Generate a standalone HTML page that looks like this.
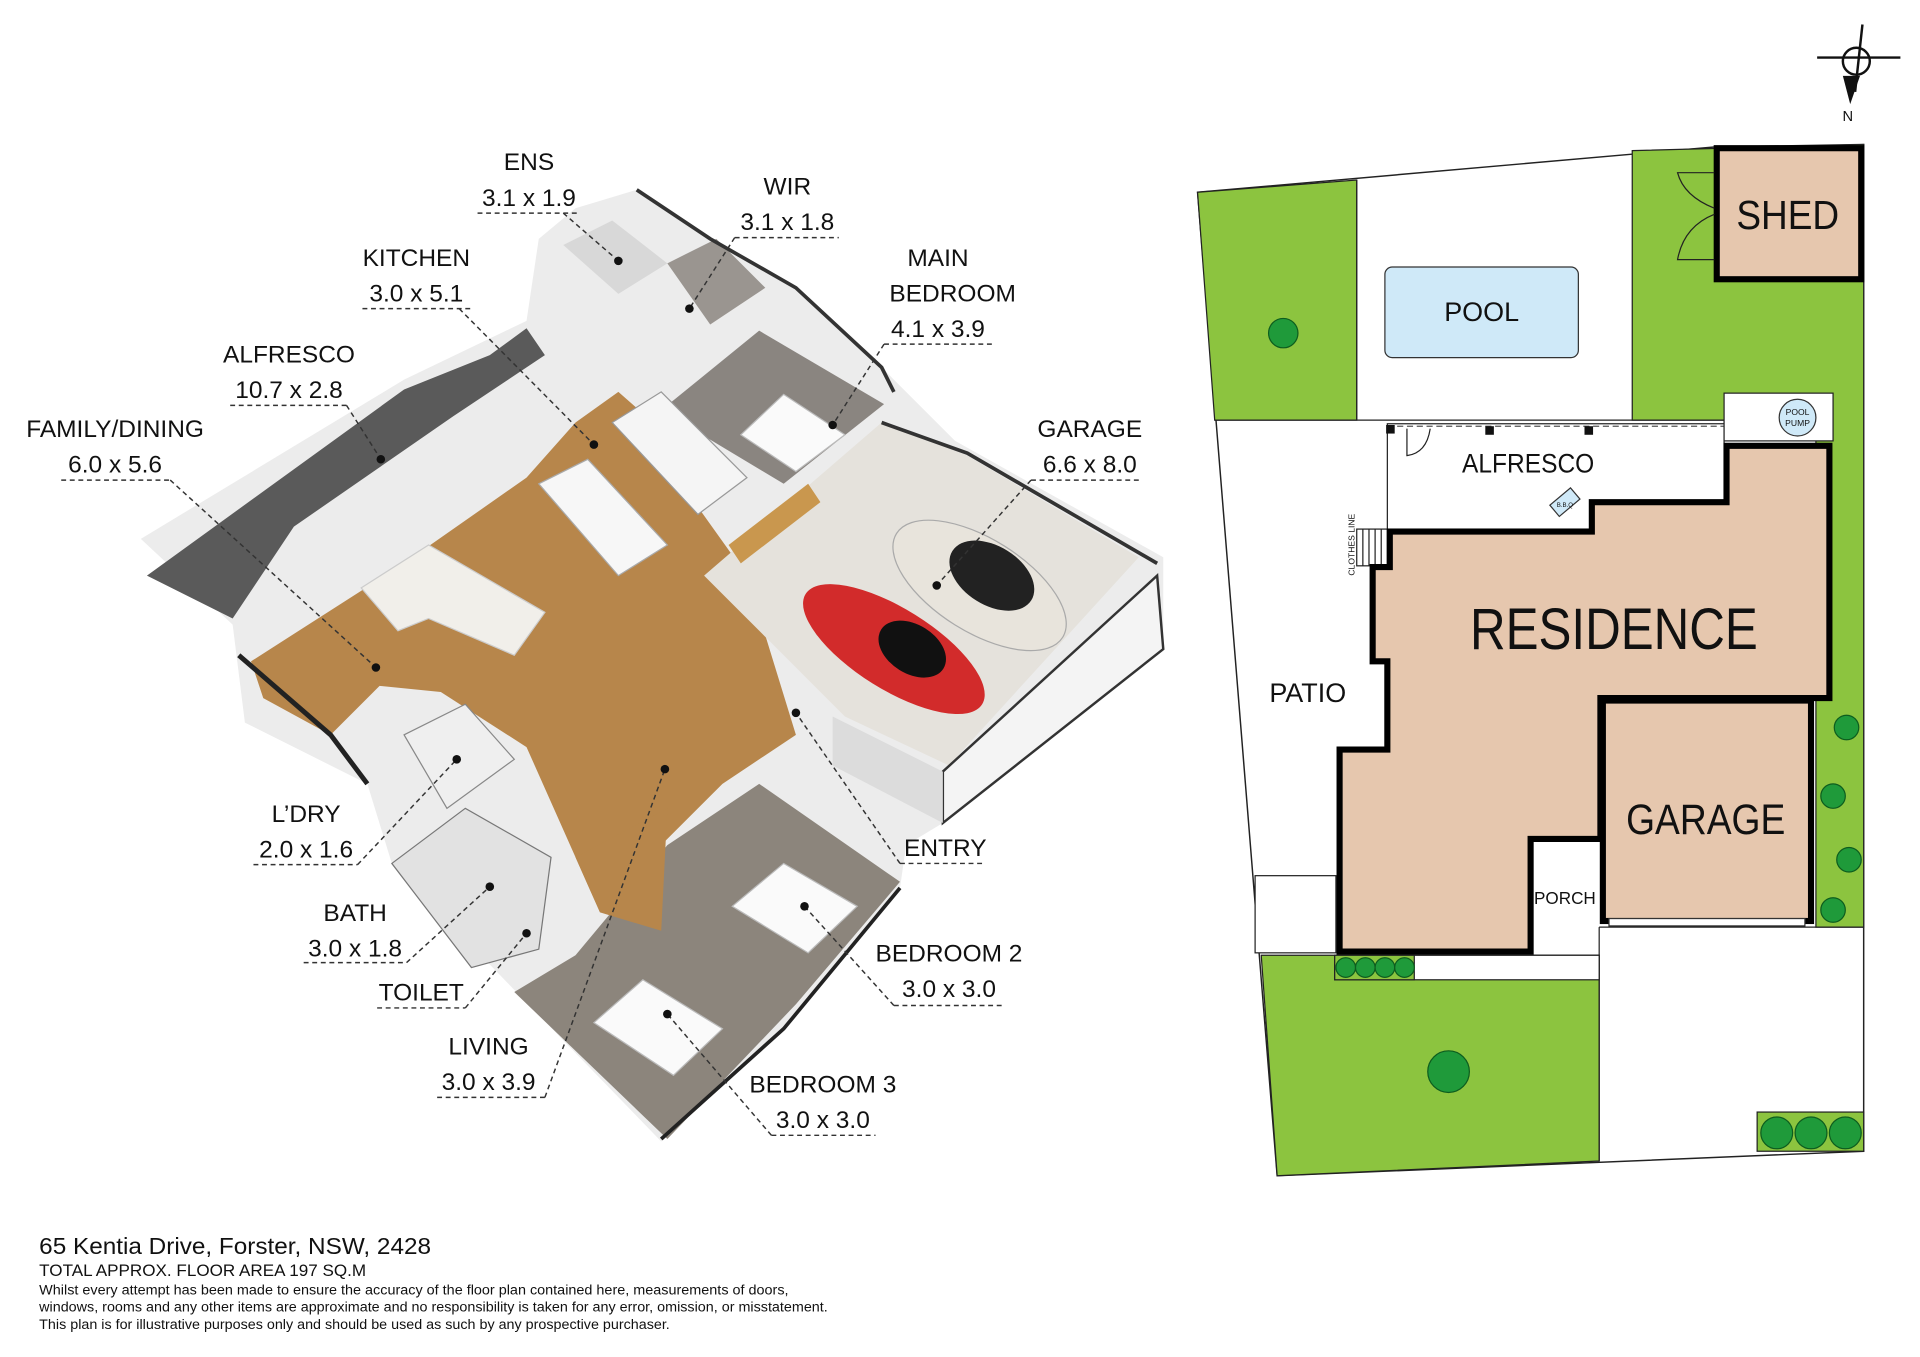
<!DOCTYPE html>
<html><head><meta charset="utf-8"><style>
html,body{margin:0;padding:0;background:#fff;}
svg{display:block;}
text{font-family:"Liberation Sans",sans-serif;fill:#111;}
.lb{font-size:20px;text-anchor:middle;}
.ul{stroke:#333;stroke-width:1.2;stroke-dasharray:4 3;fill:none;}
.dot{fill:#111;}
</style></head><body>
<svg width="1920" height="1357" viewBox="0 0 1568 1108" preserveAspectRatio="none" xmlns="http://www.w3.org/2000/svg">
<rect width="1568" height="1108" fill="#fff"/>

<!-- ===== 3D FLOOR PLAN (approximate) ===== -->
<g>
<polygon points="115,440 330,310 430,262 440,195 470,170 520,155 580,195 650,235 720,300 780,360 950,455 950,530 770,672 740,690 735,725 640,840 540,932 320,705 300,640 200,590 190,510" fill="#ececec"/>
<polygon points="120,470 330,318 400,290 430,268 445,290 370,340 240,430 190,505" fill="#5a5a5a"/>
<polygon points="205,540 330,460 430,390 470,345 505,320 545,355 560,400 610,470 650,600 590,640 530,700 490,745 470,700 430,610 360,565 310,560 270,600 215,570" fill="#b7864b"/>
<polygon points="575,470 720,345 790,372 930,455 775,625 690,585" fill="#e5e2dc"/>
<polygon points="770,630 945,470 950,530 770,672" fill="#f4f4f4" stroke="#333" stroke-width="2"/>
<polygon points="680,585 770,630 770,672 680,625" fill="#dcdcdc"/>
<polygon points="540,335 620,270 722,330 640,395" fill="#8a8580"/>
<polygon points="460,200 500,180 545,215 505,240" fill="#d8d8d8"/>
<polygon points="545,215 585,195 625,235 580,265" fill="#9a9590"/>
<polygon points="500,345 540,320 610,390 570,420" fill="#f5f5f5" stroke="#999"/>
<polygon points="440,395 480,375 545,445 505,470" fill="#f7f7f7" stroke="#aaa"/>
<polygon points="295,480 350,445 445,500 420,535 350,505 325,515" fill="#f1efea" stroke="#ccc"/>
<polygon points="545,690 620,640 735,720 650,820 545,930 420,810 470,780" fill="#8c857c"/>
<polygon points="470,700 545,660 540,760 490,745" fill="#b7864b"/>
<polygon points="598,740 640,705 700,740 660,778" fill="#fafafa" stroke="#bbb"/>
<polygon points="485,835 525,800 590,840 550,878" fill="#fafafa" stroke="#bbb"/>
<polygon points="605,355 640,322 690,355 650,385" fill="#fafafa" stroke="#bbb"/>
<polygon points="320,705 380,660 450,700 440,775 385,790" fill="#e2e2e2" stroke="#777"/>
<polygon points="330,600 380,575 420,620 365,660" fill="#efefef" stroke="#888"/>
<ellipse cx="730" cy="530" rx="85" ry="33" transform="rotate(32 730 530)" fill="#d22b2b"/>
<ellipse cx="745" cy="530" rx="30" ry="20" transform="rotate(32 745 530)" fill="#111"/>
<ellipse cx="800" cy="478" rx="80" ry="38" transform="rotate(32 800 478)" fill="#e8e4dc" stroke="#aaa"/>
<ellipse cx="810" cy="470" rx="38" ry="24" transform="rotate(32 810 470)" fill="#222"/>
<polygon points="595,445 660,395 670,410 605,460" fill="#c9974e"/>
<polyline points="195,535 270,600 300,640" fill="none" stroke="#222" stroke-width="4"/>
<polyline points="540,930 640,840 735,725" fill="none" stroke="#222" stroke-width="3"/>
<polyline points="720,345 790,370 945,460" fill="none" stroke="#333" stroke-width="3"/>
<polyline points="520,155 580,195 650,235 720,300 730,320" fill="none" stroke="#333" stroke-width="3"/>
</g>

<!-- ===== LABELS ===== -->
<g>
<text class="lb" x="432" y="139">ENS</text><text class="lb" x="432" y="168">3.1 x 1.9</text>
<line class="ul" x1="390" y1="174" x2="473" y2="174"/><polyline class="ul" points="460,174 505,213"/><circle class="dot" cx="505" cy="213" r="3.5"/>

<text class="lb" x="643" y="159">WIR</text><text class="lb" x="643" y="188">3.1 x 1.8</text>
<line class="ul" x1="600" y1="194" x2="685" y2="194"/><polyline class="ul" points="600,194 563,252"/><circle class="dot" cx="563" cy="252" r="3.5"/>

<text class="lb" x="340" y="217">KITCHEN</text><text class="lb" x="340" y="246">3.0 x 5.1</text>
<line class="ul" x1="296" y1="252" x2="384" y2="252"/><polyline class="ul" points="375,252 485,363"/><circle class="dot" cx="485" cy="363" r="3.5"/>

<text class="lb" x="766" y="217">MAIN</text><text class="lb" x="778" y="246">BEDROOM</text><text class="lb" x="766" y="275">4.1 x 3.9</text>
<line class="ul" x1="722" y1="281" x2="810" y2="281"/><polyline class="ul" points="722,281 680,347"/><circle class="dot" cx="680" cy="347" r="3.5"/>

<text class="lb" x="236" y="296">ALFRESCO</text><text class="lb" x="236" y="325">10.7 x 2.8</text>
<line class="ul" x1="188" y1="331" x2="283" y2="331"/><polyline class="ul" points="283,331 311,375"/><circle class="dot" cx="311" cy="375" r="3.5"/>

<text class="lb" x="94" y="357">FAMILY/DINING</text><text class="lb" x="94" y="386">6.0 x 5.6</text>
<line class="ul" x1="50" y1="392" x2="139" y2="392"/><polyline class="ul" points="139,392 307,545"/><circle class="dot" cx="307" cy="545" r="3.5"/>

<text class="lb" x="890" y="357">GARAGE</text><text class="lb" x="890" y="386">6.6 x 8.0</text>
<line class="ul" x1="842" y1="392" x2="933" y2="392"/><polyline class="ul" points="842,392 765,478"/><circle class="dot" cx="765" cy="478" r="3.5"/>

<text class="lb" x="250" y="671">L’DRY</text><text class="lb" x="250" y="700">2.0 x 1.6</text>
<line class="ul" x1="207" y1="706" x2="292" y2="706"/><polyline class="ul" points="292,706 373,620"/><circle class="dot" cx="373" cy="620" r="3.5"/>

<text class="lb" x="772" y="699">ENTRY</text>
<line class="ul" x1="735" y1="705" x2="805" y2="705"/><polyline class="ul" points="735,705 650,582"/><circle class="dot" cx="650" cy="582" r="3.5"/>

<text class="lb" x="290" y="752">BATH</text><text class="lb" x="290" y="781">3.0 x 1.8</text>
<line class="ul" x1="248" y1="786" x2="332" y2="786"/><polyline class="ul" points="332,786 400,724"/><circle class="dot" cx="400" cy="724" r="3.5"/>

<text class="lb" x="775" y="785">BEDROOM 2</text><text class="lb" x="775" y="814">3.0 x 3.0</text>
<line class="ul" x1="730" y1="821" x2="820" y2="821"/><polyline class="ul" points="730,821 657,740"/><circle class="dot" cx="657" cy="740" r="3.5"/>

<text class="lb" x="344" y="817">TOILET</text>
<line class="ul" x1="308" y1="823" x2="380" y2="823"/><polyline class="ul" points="380,823 430,762"/><circle class="dot" cx="430" cy="762" r="3.5"/>

<text class="lb" x="399" y="861">LIVING</text><text class="lb" x="399" y="890">3.0 x 3.9</text>
<line class="ul" x1="357" y1="896" x2="445" y2="896"/><polyline class="ul" points="445,896 543,628"/><circle class="dot" cx="543" cy="628" r="3.5"/>

<text class="lb" x="672" y="892">BEDROOM 3</text><text class="lb" x="672" y="921">3.0 x 3.0</text>
<line class="ul" x1="630" y1="927" x2="715" y2="927"/><polyline class="ul" points="630,927 545,828"/><circle class="dot" cx="545" cy="828" r="3.5"/>
</g>

<!-- ===== SITE PLAN ===== -->
<g>
<polygon points="978,157 1400,120 1522,118 1522,940 1043,960" fill="#fff" stroke="#222" stroke-width="1.2"/>
<polygon points="978,157 1108,147 1108,343 992,343" fill="#8cc43f" stroke="#222" stroke-width="1"/>
<polygon points="1333,123 1522,118 1522,757 1483,757 1483,360 1408,360 1408,343 1333,343" fill="#8cc43f" stroke="#222" stroke-width="1"/>
<polygon points="1030,780 1306,780 1306,948 1043,960" fill="#8cc43f" stroke="#222" stroke-width="1"/>
<line x1="1108" y1="147" x2="1108" y2="343" stroke="#222"/>
<line x1="992" y1="343" x2="1408" y2="343" stroke="#222"/>
<rect x="1131" y="218" width="158" height="74" rx="6" fill="#cfe9f8" stroke="#333"/>
<text x="1210" y="262" font-size="22" text-anchor="middle">POOL</text>
<rect x="1402" y="121" width="118" height="107" fill="#e6c7ae" stroke="#000" stroke-width="5"/>
<path d="M1400,141 H1370 Q1375,160 1400,170 M1400,212 H1370 Q1375,185 1400,175" fill="none" stroke="#222"/>
<text x="1460" y="187" font-size="33" text-anchor="middle" textLength="84" lengthAdjust="spacingAndGlyphs">SHED</text>
<rect x="1133" y="346" width="275" height="86" fill="#fff" stroke="#222"/>
<line x1="1133" y1="348" x2="1408" y2="348" stroke="#555" stroke-dasharray="5 3"/>
<rect x="1132" y="347" width="7" height="7" fill="#111"/><rect x="1213" y="348" width="7" height="7" fill="#111"/><rect x="1294" y="348" width="7" height="7" fill="#111"/>
<path d="M1149,350 V372 Q1165,370 1168,350" fill="none" stroke="#222"/>
<text x="1248" y="386" font-size="22" text-anchor="middle" textLength="108" lengthAdjust="spacingAndGlyphs">ALFRESCO</text>
<rect x="1267" y="404" width="22" height="12" transform="rotate(-40 1278 410)" fill="#cfe9f8" stroke="#333"/>
<text x="1278" y="414" font-size="5" text-anchor="middle">B.B.Q</text>
<rect x="1408" y="321" width="89" height="39" fill="#fff" stroke="#222"/>
<circle cx="1468" cy="341" r="15" fill="#cfe9f8" stroke="#333"/>
<text x="1468" y="339" font-size="7" text-anchor="middle">POOL</text><text x="1468" y="348" font-size="7" text-anchor="middle">PUMP</text>
<rect x="1108" y="432" width="25" height="30" fill="#fff" stroke="#222"/>
<g stroke="#222"><line x1="1113" y1="432" x2="1113" y2="462"/><line x1="1118" y1="432" x2="1118" y2="462"/><line x1="1123" y1="432" x2="1123" y2="462"/><line x1="1128" y1="432" x2="1128" y2="462"/></g>
<text x="0" y="0" font-size="7" transform="translate(1106,470) rotate(-90)">CLOTHES LINE</text>
<polygon points="1135,434 1300,434 1300,410 1410,410 1410,364 1494,364 1494,570 1307,570 1307,685 1250,685 1250,777 1094,777 1094,612 1133,612 1133,540 1121,540 1121,463 1135,463" fill="#e6c7ae" stroke="#000" stroke-width="5" stroke-linejoin="miter"/>
<text x="1318" y="530" font-size="48" text-anchor="middle" textLength="235" lengthAdjust="spacingAndGlyphs">RESIDENCE</text>
<text x="1068" y="573" font-size="22" text-anchor="middle">PATIO</text>
<rect x="1309" y="572" width="170" height="180" fill="#e6c7ae" stroke="#000" stroke-width="5"/>
<rect x="1314" y="750" width="160" height="6" fill="#fff" stroke="#333"/>
<text x="1393" y="681" font-size="35" text-anchor="middle" textLength="130" lengthAdjust="spacingAndGlyphs">GARAGE</text>
<text x="1278" y="738" font-size="14" text-anchor="middle">PORCH</text>
<line x1="1252" y1="780" x2="1306" y2="780" stroke="#222"/>
<line x1="1306" y1="757" x2="1306" y2="948" stroke="#222"/>
<line x1="1306" y1="757" x2="1522" y2="757" stroke="#222"/>
<rect x="1025" y="715" width="66" height="63" fill="#fff" stroke="#222"/>
<rect x="1090" y="780" width="216" height="20" fill="#fff" stroke="#222"/>
<rect x="1090" y="780" width="65" height="20" fill="#8cc43f" stroke="#222"/>
<g fill="#1f9a3a" stroke="#0d5d1e">
<circle cx="1099" cy="790" r="8"/><circle cx="1115" cy="790" r="8"/><circle cx="1131" cy="790" r="8"/><circle cx="1147" cy="790" r="8"/>
<circle cx="1048" cy="272" r="12"/><circle cx="1183" cy="875" r="17"/>
<circle cx="1508" cy="594" r="10"/><circle cx="1497" cy="650" r="10"/><circle cx="1510" cy="702" r="10"/><circle cx="1497" cy="743" r="10"/>
</g>
<rect x="1435" y="908" width="87" height="32" fill="#8cc43f" stroke="#222"/>
<g fill="#1f9a3a" stroke="#0d5d1e"><circle cx="1451" cy="925" r="13"/><circle cx="1479" cy="925" r="13"/><circle cx="1507" cy="925" r="13"/></g>
<g stroke="#111" stroke-width="2" fill="none">
<circle cx="1516" cy="50" r="11"/><line x1="1484" y1="47" x2="1552" y2="47"/><line x1="1521" y1="20" x2="1515" y2="75"/>
</g>
<polygon points="1505,62 1519,62 1511,85" fill="#111"/>
<text x="1509" y="99" font-size="12" text-anchor="middle">N</text>
</g>

<!-- ===== FOOTER ===== -->
<text x="32" y="1024" font-size="19" textLength="320" lengthAdjust="spacingAndGlyphs">65 Kentia Drive, Forster, NSW, 2428</text>
<text x="32" y="1042" font-size="13.5" textLength="267" lengthAdjust="spacingAndGlyphs">TOTAL APPROX. FLOOR AREA 197 SQ.M</text>
<text x="32" y="1057" font-size="11" textLength="612" lengthAdjust="spacingAndGlyphs">Whilst every attempt has been made to ensure the accuracy of the floor plan contained here, measurements of doors,</text>
<text x="32" y="1071" font-size="11" textLength="644" lengthAdjust="spacingAndGlyphs">windows, rooms and any other items are approximate and no responsibility is taken for any error, omission, or misstatement.</text>
<text x="32" y="1085" font-size="11" textLength="515" lengthAdjust="spacingAndGlyphs">This plan is for illustrative purposes only and should be used as such by any prospective purchaser.</text>
</svg>
</body></html>
